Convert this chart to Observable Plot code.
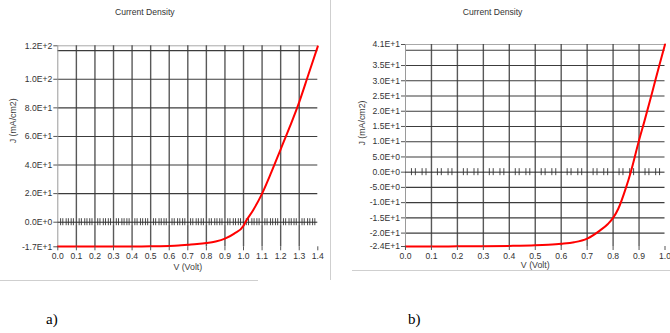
<!DOCTYPE html>
<html><head><meta charset="utf-8">
<script src="https://cdn.jsdelivr.net/npm/d3@7"></script>
<script src="https://cdn.jsdelivr.net/npm/@observablehq/plot@0.6"></script>
<style>
body{margin:0;background:#fff;width:670px;height:333px;position:relative;overflow:hidden;font-family:"Liberation Sans",Arial,sans-serif;}
#a{position:absolute;left:0;top:0;}
#b{position:absolute;left:335px;top:0;}
.cap{position:absolute;font-family:"Liberation Serif","Times New Roman",serif;font-size:15px;color:#000;}
.frame{position:absolute;background:#cfcfcf;}
</style></head><body>
<div id="a"></div><div id="b"></div>
<div class="frame" style="left:330px;top:0;width:1px;height:280px"></div>
<div class="frame" style="left:0;top:280px;width:258px;height:1px"></div>
<div class="frame" style="left:352px;top:270px;width:318px;height:1px"></div>
<div class="cap" style="left:46px;top:311px">a)</div>
<div class="cap" style="left:408px;top:311px">b)</div>
<script>
// Panel a) data
const voltA    = [0, 0.1, 0.2, 0.3, 0.4, 0.5, 0.6, 0.65, 0.7, 0.75, 0.8, 0.85, 0.9, 0.95, 1.0, 1.01, 1.05, 1.1, 1.15, 1.2, 1.25, 1.3, 1.35, 1.4];
const currentA = [-17, -17, -17, -17, -16.95, -16.9, -16.6, -16.3, -15.8, -15.3, -14.6, -13.5, -11.5, -8, -2.5, 0, 8, 20, 35, 51, 67, 84, 103.5, 123];
const yDomainA = [-17.2, 123.4];
const yTicksA  = [-17.2, 0, 20, 40, 60, 80, 100, 123.4];
const yLabelsA = ["-1.7E+1", "0.0E+0", "2.0E+1", "4.0E+1", "6.0E+1", "8.0E+1", "1.0E+2", "1.2E+2"];
const yGridA   = [20, 40, 60, 80, 100, 120];
const xTicksA  = [0, 0.1, 0.2, 0.3, 0.4, 0.5, 0.6, 0.7, 0.8, 0.9, 1.0, 1.1, 1.2, 1.3, 1.4];
const xGridA   = [0.1, 0.2, 0.3, 0.4, 0.5, 0.6, 0.7, 0.8, 0.9, 1.0, 1.1, 1.2, 1.3];
const minorOffsetsA = [0.015, 0.027, 0.045, 0.057, 0.072, 0.084];

// Panel b) data
const voltB    = [0, 0.1, 0.2, 0.3, 0.4, 0.5, 0.55, 0.6, 0.65, 0.7, 0.75, 0.78, 0.8, 0.82, 0.85, 0.868, 0.9, 0.92, 0.95, 0.978, 1.0];
const currentB = [-24.4, -24.4, -24.35, -24.3, -24.2, -24.0, -23.8, -23.5, -23.0, -21.8, -19.1, -17, -15, -12, -5, 0, 10.5, 16.5, 26, 35, 41.9];
const yDomainB = [-24.4, 41.9];
const yTicksB  = [-24.4, -20, -15, -10, -5, 0, 5, 10, 15, 20, 25, 30, 35, 41.9];
const yLabelsB = ["-2.4E+1", "-2.0E+1", "-1.5E+1", "-1.0E+1", "-5.0E+0", "0.0E+0", "5.0E+0", "1.0E+1", "1.5E+1", "2.0E+1", "2.5E+1", "3.0E+1", "3.5E+1", "4.1E+1"];
const yGridB   = [-20, -15, -10, -5, 5, 10, 15, 20, 25, 30, 35, 40];
const xTicksB  = [0, 0.1, 0.2, 0.3, 0.4, 0.5, 0.6, 0.7, 0.8, 0.9, 1.0];
const xGridB   = [0.1, 0.2, 0.3, 0.4, 0.5, 0.6, 0.7, 0.8, 0.9];
const minorOffsetsB = [0.023, 0.038, 0.064, 0.079];

const title = "Current Density";
const xLabel = "V (Volt)";
const yLabel = "J (mA/cm2)";

function panel(cfg) {
  const data = cfg.volt.map((v, i) => ({v, j: cfg.current[i]}));
  const minor = [];
  for (let k = 0; k < cfg.xTicks.length - 1; k++)
    for (const o of cfg.offsets) minor.push(cfg.xTicks[k] + o);
  const labelMap = new Map(cfg.yTicks.map((t, i) => [t, cfg.yLabels[i]]));
  const grid = "#3c3c3c";
  return Plot.plot({
    width: cfg.width, height: 280,
    marginLeft: cfg.ml, marginRight: cfg.mr, marginTop: cfg.mt, marginBottom: 280 - cfg.fb,
    style: {fontFamily: "'Liberation Sans', Arial, sans-serif", fontSize: "8.6px", color: "#333", background: "transparent", overflow: "hidden"},
    x: {domain: [cfg.xTicks[0], cfg.xTicks[cfg.xTicks.length - 1]]},
    y: {domain: cfg.yDomain},
    marks: [
      Plot.ruleY([cfg.yDomain[1]], {stroke: "#a8a8a8"}),
      Plot.ruleY(cfg.yGrid, {stroke: grid, strokeWidth: 1.1}),
      Plot.ruleX(cfg.xGrid, {stroke: grid, strokeWidth: 1.4, strokeOpacity: 0.85}),
      Plot.ruleX([cfg.xTicks[0]], {stroke: "#9a9a9a"}),
      Plot.ruleY([0], {stroke: "#222"}),
      Plot.ruleX(minor, {x: d => d, y1: 0, y2: 0, insetTop: -3.5, insetBottom: -3.5, stroke: "#333", strokeWidth: 0.9}),
      Plot.line(data, {x: "v", y: "j", stroke: "#ff0000", strokeWidth: 2, curve: "monotone-x"}),
      Plot.axisY(cfg.yTicks, {tickFormat: d => labelMap.get(d), tickSize: 4, tickPadding: 1.5, label: null, stroke: "#555"}),
      Plot.axisX(cfg.xTicks, {tickFormat: d => d.toFixed(1), tickSize: 4, tickPadding: 2, label: null, stroke: "#555"}),
      Plot.text([title], {text: d => d, frameAnchor: "top", dx: cfg.tdx, dy: 8 - cfg.mt, fontSize: 8.6, fill: "#333"}),
      Plot.text([xLabel], {text: d => d, frameAnchor: "bottom", dy: cfg.xldy, fontSize: 8.8, fill: "#404040"}),
      Plot.text([yLabel], {text: d => d, frameAnchor: "left", rotate: -90, dx: cfg.yldx, dy: cfg.yldy, fontSize: 8.8, fill: "#404040"})
    ]
  });
}

document.getElementById("a").append(panel({
  volt: voltA, current: currentA, yDomain: yDomainA, yTicks: yTicksA, yLabels: yLabelsA,
  yGrid: yGridA, xTicks: xTicksA, xGrid: xGridA, offsets: minorOffsetsA,
  width: 330, ml: 57.3, mr: 12.7, mt: 45.3, fb: 246.3, tdx: -43, xldy: 23.5, yldx: -44.8, yldy: -3
}));
document.getElementById("b").append(panel({
  volt: voltB, current: currentB, yDomain: yDomainB, yTicks: yTicksB, yLabels: yLabelsB,
  yGrid: yGridB, xTicks: xTicksB, xGrid: xGridB, offsets: minorOffsetsB,
  width: 335, ml: 70, mr: 5.5, mt: 44, fb: 246, tdx: -42.7, xldy: 21.5, yldx: -43, yldy: 0
}));
</script>
</body></html>
